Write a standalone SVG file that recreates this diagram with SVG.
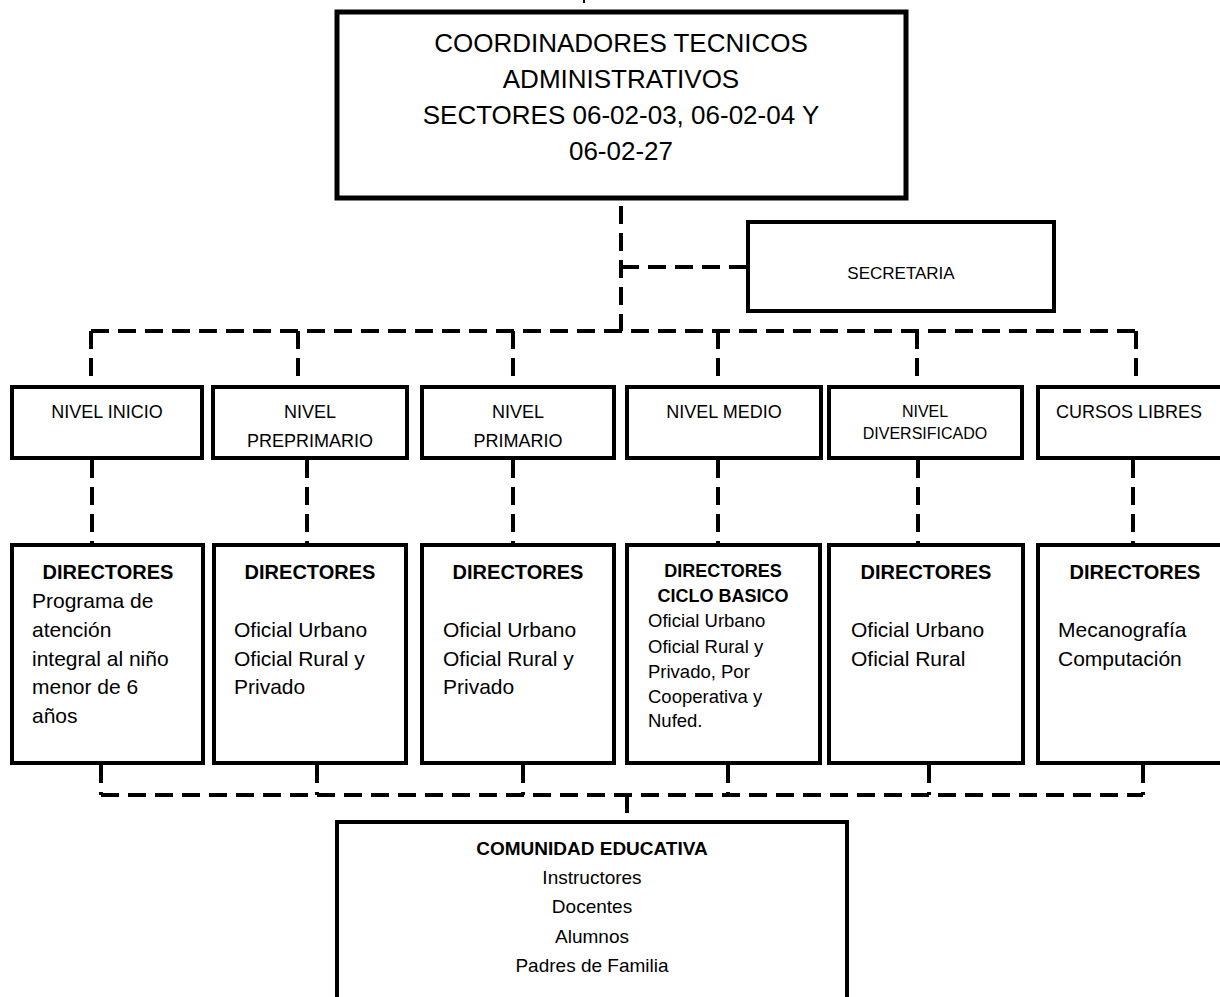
<svg xmlns="http://www.w3.org/2000/svg" width="1220" height="997" viewBox="0 0 1220 997">
<style>
.box{fill:#fff;stroke:#000;stroke-width:4}
.t{font-family:"Liberation Sans",Arial,sans-serif;fill:#000}
.c{text-anchor:middle}
.b{font-weight:bold}
.dash{fill:none;stroke:#000;stroke-width:4;stroke-dasharray:18 9}
</style>
<rect width="1220" height="997" fill="#fff"/>
<g id="connectors">
<path d="M584 0 V3" stroke="#000" stroke-width="2"/>
<path class="dash" d="M621 206 V331"/>
<path class="dash" d="M621 267 H748"/>
<path class="dash" d="M91 331 H1136"/>
<path class="dash" d="M91 331 V387 M298 331 V387 M513 331 V387 M718 331 V387 M917 331 V387 M1136 331 V387"/>
<path class="dash" d="M92 460 V545 M307 460 V545 M513 460 V545 M718 460 V545 M918 460 V545 M1133 460 V545"/>
<path class="dash" d="M101 765 V795 M317 765 V795 M523 765 V795 M728 765 V795 M929 765 V795 M1143 765 V795"/>
<path class="dash" d="M101 795 H1143"/>
<path class="dash" d="M627 795 V822"/>
</g>
<g id="coordinadores">
<rect class="box" x="337" y="12" width="569" height="186" style="stroke-width:5"/>
<text class="t c" x="621" y="52" font-size="26">COORDINADORES TECNICOS</text>
<text class="t c" x="621" y="88" font-size="26">ADMINISTRATIVOS</text>
<text class="t c" x="621" y="124" font-size="26">SECTORES 06-02-03, 06-02-04 Y</text>
<text class="t c" x="621" y="160" font-size="26">06-02-27</text>
</g>
<g id="secretaria">
<rect class="box" x="748" y="222" width="306" height="89"/>
<text class="t c" x="901" y="279" font-size="17">SECRETARIA</text>
</g>
<g id="nivel-inicio">
<rect class="box" x="12" y="387" width="190" height="71"/>
<text class="t c" x="107" y="418" font-size="18">NIVEL INICIO</text>
</g>
<g id="nivel-preprimario">
<rect class="box" x="213" y="387" width="194" height="71"/>
<text class="t c" x="310" y="418" font-size="18">NIVEL</text>
<text class="t c" x="310" y="447" font-size="18">PREPRIMARIO</text>
</g>
<g id="nivel-primario">
<rect class="box" x="422" y="387" width="192" height="71"/>
<text class="t c" x="518" y="418" font-size="18">NIVEL</text>
<text class="t c" x="518" y="447" font-size="18">PRIMARIO</text>
</g>
<g id="nivel-medio">
<rect class="box" x="627" y="387" width="194" height="71"/>
<text class="t c" x="724" y="418" font-size="18">NIVEL MEDIO</text>
</g>
<g id="nivel-diversificado">
<rect class="box" x="829" y="387" width="193" height="71"/>
<text class="t c" x="925" y="417" font-size="16">NIVEL</text>
<text class="t c" x="925" y="439" font-size="16">DIVERSIFICADO</text>
</g>
<g id="cursos-libres">
<rect class="box" x="1038" y="387" width="190" height="71"/>
<text class="t c" x="1129" y="418" font-size="18">CURSOS LIBRES</text>
</g>
<g id="directores-inicio">
<rect class="box" x="12" y="545" width="191" height="218"/>
<text class="t c b" x="108" y="579" font-size="20">DIRECTORES</text>
<text class="t" x="32" y="608" font-size="21">Programa de</text>
<text class="t" x="32" y="637" font-size="21">atención</text>
<text class="t" x="32" y="666" font-size="21">integral al niño</text>
<text class="t" x="32" y="694" font-size="21">menor de 6</text>
<text class="t" x="32" y="723" font-size="21">años</text>
</g>
<g id="directores-preprimario">
<rect class="box" x="214" y="545" width="192" height="218"/>
<text class="t c b" x="310" y="579" font-size="20">DIRECTORES</text>
<text class="t" x="234" y="637" font-size="21">Oficial Urbano</text>
<text class="t" x="234" y="666" font-size="21">Oficial Rural y</text>
<text class="t" x="234" y="694" font-size="21">Privado</text>
</g>
<g id="directores-primario">
<rect class="box" x="422" y="545" width="192" height="218"/>
<text class="t c b" x="518" y="579" font-size="20">DIRECTORES</text>
<text class="t" x="443" y="637" font-size="21">Oficial Urbano</text>
<text class="t" x="443" y="666" font-size="21">Oficial Rural y</text>
<text class="t" x="443" y="694" font-size="21">Privado</text>
</g>
<g id="directores-medio">
<rect class="box" x="627" y="545" width="193" height="218"/>
<text class="t c b" x="723" y="577" font-size="18">DIRECTORES</text>
<text class="t c b" x="723" y="602" font-size="18">CICLO BASICO</text>
<text class="t" x="648" y="627" font-size="18.5">Oficial Urbano</text>
<text class="t" x="648" y="653" font-size="18.5">Oficial Rural y</text>
<text class="t" x="648" y="678" font-size="18.5">Privado, Por</text>
<text class="t" x="648" y="703" font-size="18.5">Cooperativa y</text>
<text class="t" x="648" y="727" font-size="18.5">Nufed.</text>
</g>
<g id="directores-diversificado">
<rect class="box" x="829" y="545" width="194" height="218"/>
<text class="t c b" x="926" y="579" font-size="20">DIRECTORES</text>
<text class="t" x="851" y="637" font-size="21">Oficial Urbano</text>
<text class="t" x="851" y="666" font-size="21">Oficial Rural</text>
</g>
<g id="directores-cursos">
<rect class="box" x="1038" y="545" width="190" height="218"/>
<text class="t c b" x="1135" y="579" font-size="20">DIRECTORES</text>
<text class="t" x="1058" y="637" font-size="21">Mecanografía</text>
<text class="t" x="1058" y="666" font-size="21">Computación</text>
</g>
<g id="comunidad">
<rect class="box" x="337" y="822" width="510" height="200"/>
<text class="t c b" x="592" y="855" font-size="19">COMUNIDAD EDUCATIVA</text>
<text class="t c" x="592" y="884" font-size="19">Instructores</text>
<text class="t c" x="592" y="913" font-size="19">Docentes</text>
<text class="t c" x="592" y="943" font-size="19">Alumnos</text>
<text class="t c" x="592" y="972" font-size="19">Padres de Familia</text>
</g>
</svg>
